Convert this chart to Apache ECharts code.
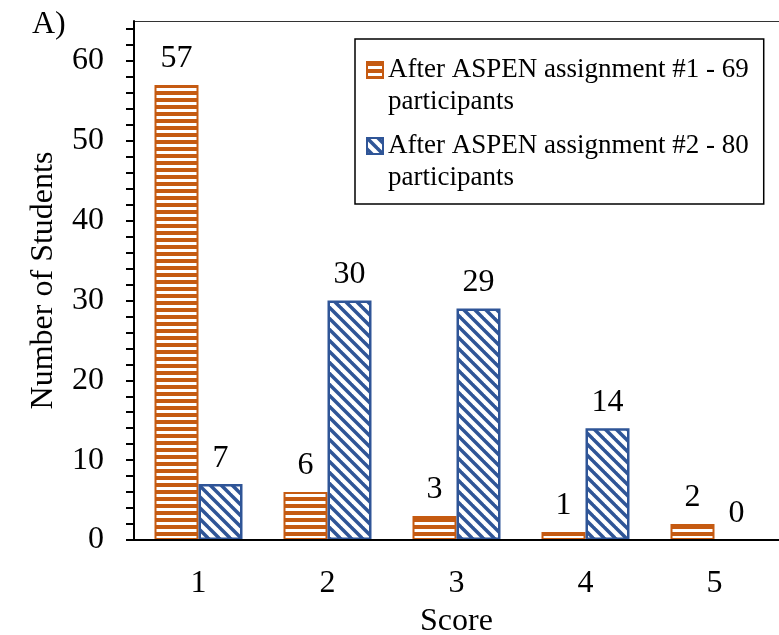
<!DOCTYPE html>
<html>
<head>
<meta charset="utf-8">
<script src="https://cdn.jsdelivr.net/npm/echarts@6/dist/echarts.min.js"></script>
<style>html,body{margin:0;padding:0;background:#fff;overflow:hidden;}#c{width:779px;height:635px;}</style>
</head>
<body>
<div id="c"></div>
<script>
const categories = ['1', '2', '3', '4', '5'];
const seriesNames = ['After ASPEN assignment #1 - 69\nparticipants', 'After ASPEN assignment #2 - 80\nparticipants'];
const afterAssignment1 = [57, 6, 3, 1, 2];
const afterAssignment2 = [7, 30, 29, 14, 0];
const yTickValues = [0, 2, 4, 6, 8, 10, 12, 14, 16, 18, 20, 22, 24, 26, 28, 30, 32, 34, 36, 38, 40, 42, 44, 46, 48, 50, 52, 54, 56, 58, 60, 62, 64];
const yLabelValues = [0, 10, 20, 30, 40, 50, 60];

const ORANGE = '#C55A11';
const BLUE = '#2F5597';
const FONT = 'Liberation Serif';

function stripeTile() {
  const c = document.createElement('canvas');
  c.width = 8; c.height = 7;
  const g = c.getContext('2d');
  g.fillStyle = '#fff'; g.fillRect(0, 0, 8, 7);
  g.fillStyle = ORANGE; g.fillRect(0, 0, 8, 4);
  return c;
}
function diagTile() {
  const s = 11;
  const c = document.createElement('canvas');
  c.width = s; c.height = s;
  const g = c.getContext('2d');
  g.fillStyle = '#fff'; g.fillRect(0, 0, s, s);
  g.strokeStyle = BLUE; g.lineWidth = 3.5;
  [-s, 0, s].forEach(function (o) {
    g.beginPath(); g.moveTo(o - 1, -1); g.lineTo(o + s + 1, s + 1); g.stroke();
  });
  return c;
}
// zero-height bars get no outline (nothing is drawn for them in the reference)
function toItems(values) {
  return values.map(function (v) {
    return v === 0 ? { value: v, itemStyle: { borderWidth: 0 } } : v;
  });
}

const chart = echarts.init(document.getElementById('c'), null, { renderer: 'canvas' });
const labelStyle = { show: true, position: 'top', distance: 10, fontSize: 32, fontFamily: FONT, color: '#000' };

chart.setOption({
  animation: false,
  backgroundColor: '#fff',
  graphic: [{ type: 'text', left: 32, top: 9, style: { text: 'A)', fontSize: 32, fontFamily: FONT, fill: '#000' } }],
  grid: { left: 134, top: 21, right: 0, bottom: 95, containLabel: false, outerBoundsMode: 'none' },
  legend: {
    orient: 'vertical', left: 355, top: 39,
    padding: [15, 15, 10, 11], itemGap: 12,
    itemWidth: 16, itemHeight: 48,
    icon: 'path://M0,0L16,0L16,16L0,16ZM0,48L0,48',
    borderColor: '#000', borderWidth: 1.5,
    textStyle: { fontSize: 27, lineHeight: 32, fontFamily: FONT, color: '#000' },
    data: seriesNames
  },
  xAxis: [{
    type: 'category', data: categories, position: 'bottom', z: 5,
    axisLine: { show: true, lineStyle: { color: '#000', width: 2 } },
    axisTick: { show: false },
    axisLabel: { margin: 28, fontSize: 32, fontFamily: FONT, color: '#000' },
    name: 'Score', nameLocation: 'middle', nameGap: 66,
    nameTextStyle: { fontSize: 32, fontFamily: FONT, color: '#000' }
  }, {
    type: 'category', data: categories, position: 'top',
    axisLine: { show: true, lineStyle: { color: '#333', width: 1.2 } },
    axisTick: { show: false }, axisLabel: { show: false }
  }],
  yAxis: {
    type: 'value', min: 0, max: 65, z: 5,
    axisLine: { show: true, lineStyle: { color: '#000', width: 2 } },
    axisTick: { show: true, length: 8, customValues: yTickValues, lineStyle: { color: '#000', width: 2 } },
    axisLabel: { margin: 30, customValues: yLabelValues, fontSize: 32, fontFamily: FONT, color: '#000' },
    splitLine: { show: false },
    name: 'Number of Students', nameLocation: 'middle', nameGap: 74,
    nameTextStyle: { fontSize: 32, fontFamily: FONT, color: '#000' }
  },
  series: [{
    name: seriesNames[0], type: 'bar', data: toItems(afterAssignment1),
    barWidth: 44, barGap: '0%', z: 2,
    itemStyle: { color: { image: stripeTile(), repeat: 'repeat' }, borderColor: ORANGE, borderWidth: 2 },
    label: labelStyle
  }, {
    name: seriesNames[1], type: 'bar', data: toItems(afterAssignment2),
    barWidth: 44, barGap: '0%', z: 2,
    itemStyle: { color: { image: diagTile(), repeat: 'repeat' }, borderColor: BLUE, borderWidth: 2.5 },
    label: labelStyle
  }]
});
</script>
</body>
</html>
